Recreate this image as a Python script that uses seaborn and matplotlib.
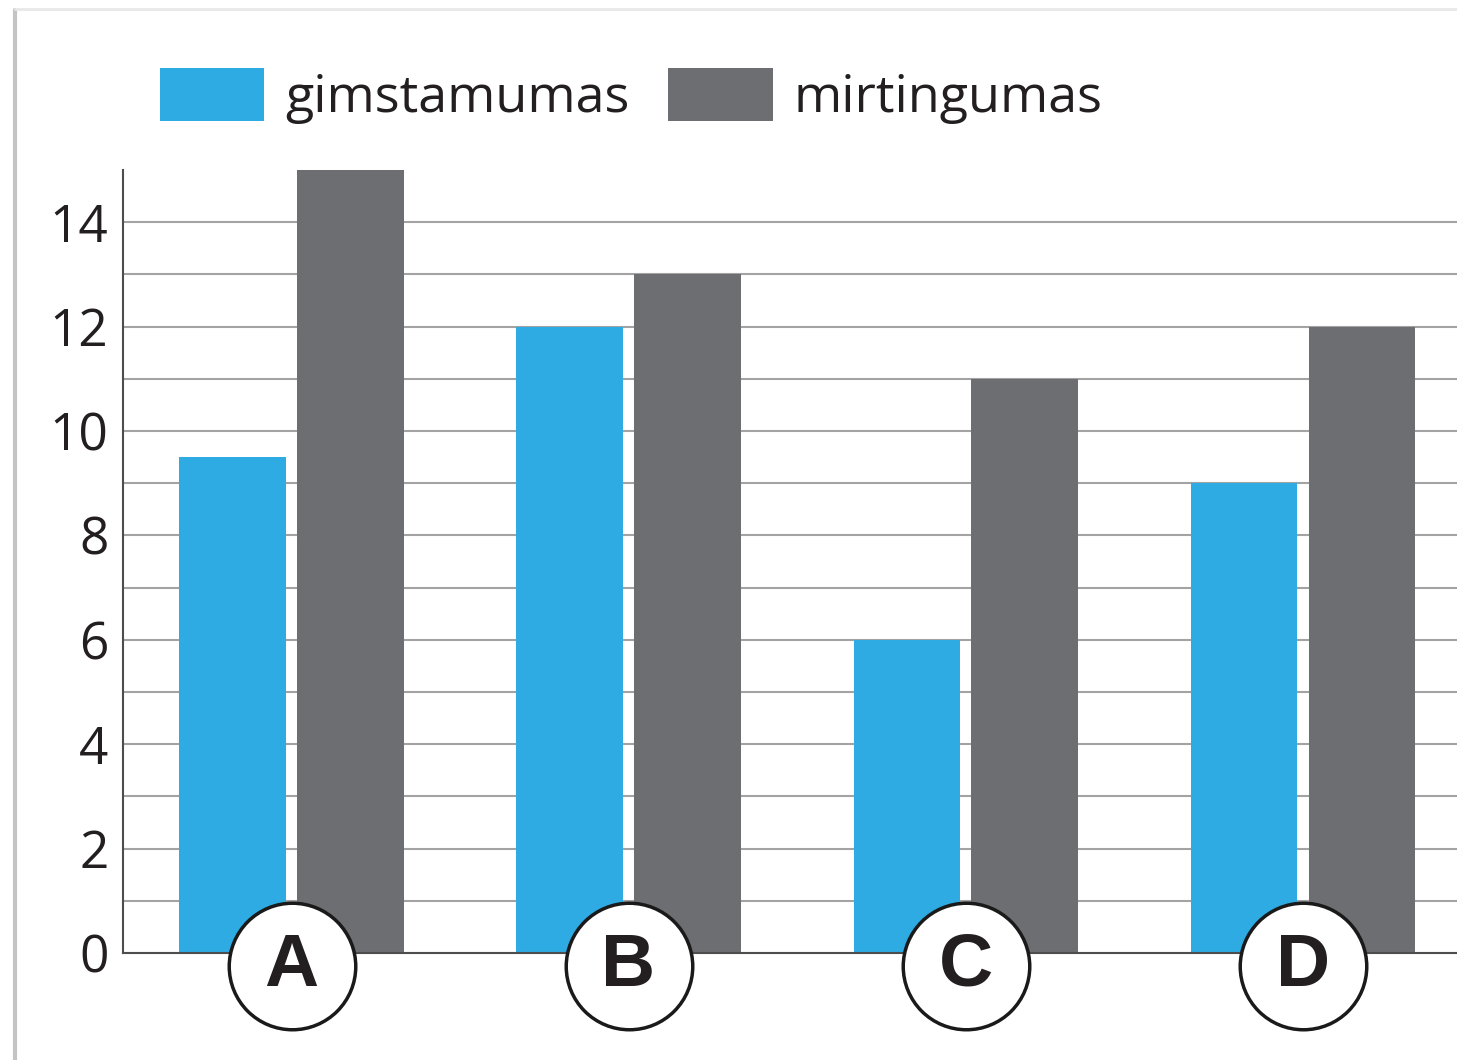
import pandas as pd
import numpy as np
import matplotlib.pyplot as plt
import seaborn as sns
from matplotlib.lines import Line2D

# data
grupes = ["A", "B", "C", "D"]
gimstamumas = [9.5, 12, 6, 9]
mirtingumas = [15, 13, 11, 12]
serijos = ["gimstamumas", "mirtingumas"]
y_ticks = [0, 2, 4, 6, 8, 10, 12, 14]

spalvos = ["#2DABE2", "#6D6E71"]

df = pd.DataFrame({
    "grupe": grupes * 2,
    "reiksme": gimstamumas + mirtingumas,
    "rodiklis": [serijos[0]] * len(grupes) + [serijos[1]] * len(grupes),
})

sns.set_theme(style="white")
plt.rcParams["font.family"] = ["Open Sans", "DejaVu Sans"]

fig = plt.figure(figsize=(14.57, 10.60), dpi=100)
ax = fig.add_axes([123 / 1457, 1 - 953 / 1060, 1 - 123 / 1457, (953 - 170) / 1060])

sns.barplot(data=df, x="grupe", y="reiksme", hue="rodiklis", palette=spalvos,
            width=0.7, gap=0.1, linewidth=0, saturation=1, ax=ax)

ax.set_xlim(-0.5, 3.458)
ax.set_ylim(0, 15)
ax.set_xlabel("")
ax.set_ylabel("")

# horizontal grid every 1, labels every 2
ax.set_yticks(y_ticks)
ax.set_yticks(np.arange(1, 15, 2), minor=True)
ax.grid(axis="y", which="both", color="#a3a3a3", linewidth=1.5)
ax.set_axisbelow(True)
ax.tick_params(axis="y", which="both", length=0, pad=10.5, labelsize=37, labelcolor="#231f20")

# group separators on the x axis
ax.set_xticks([0.5, 1.5, 2.5])
ax.set_xticklabels([])
ax.tick_params(axis="x", direction="in", length=11, width=1.5, color="#4d4d4d")

sns.despine(ax=ax)
for side in ["left", "bottom"]:
    ax.spines[side].set_color("#4d4d4d")
    ax.spines[side].set_linewidth(1.5)

# circled category letters
ax.scatter(range(len(grupes)), [-0.25] * len(grupes), s=8300, facecolor="white",
           edgecolor="#1a1a1a", linewidth=2.5, clip_on=False, zorder=5)
for i, g in enumerate(grupes):
    ax.text(i, -0.25, g, ha="center", va="center", fontsize=54, fontweight="bold",
            family=["Liberation Sans", "DejaVu Sans"], color="#231f20", zorder=6,
            clip_on=False)

# legend on top
handles, labels = ax.get_legend_handles_labels()
ax.legend(handles, labels, loc="upper left", ncol=2, frameon=False,
          bbox_to_anchor=(160 / 1457, 1 - 68 / 1060), bbox_transform=fig.transFigure,
          fontsize=37.5, handlelength=2.0, handleheight=1.2, handletextpad=0.4,
          columnspacing=0.75, borderpad=0, borderaxespad=0, labelcolor="#231f20")

# page frame
fig.add_artist(Line2D([15 / 1457, 15 / 1457], [0, 1 - 10 / 1060],
                      transform=fig.transFigure, color="#c4c4c4", linewidth=3))
fig.add_artist(Line2D([15 / 1457, 1], [1 - 9 / 1060, 1 - 9 / 1060],
                      transform=fig.transFigure, color="#e8e8e8", linewidth=2))

fig.savefig("out.png", dpi=100)
